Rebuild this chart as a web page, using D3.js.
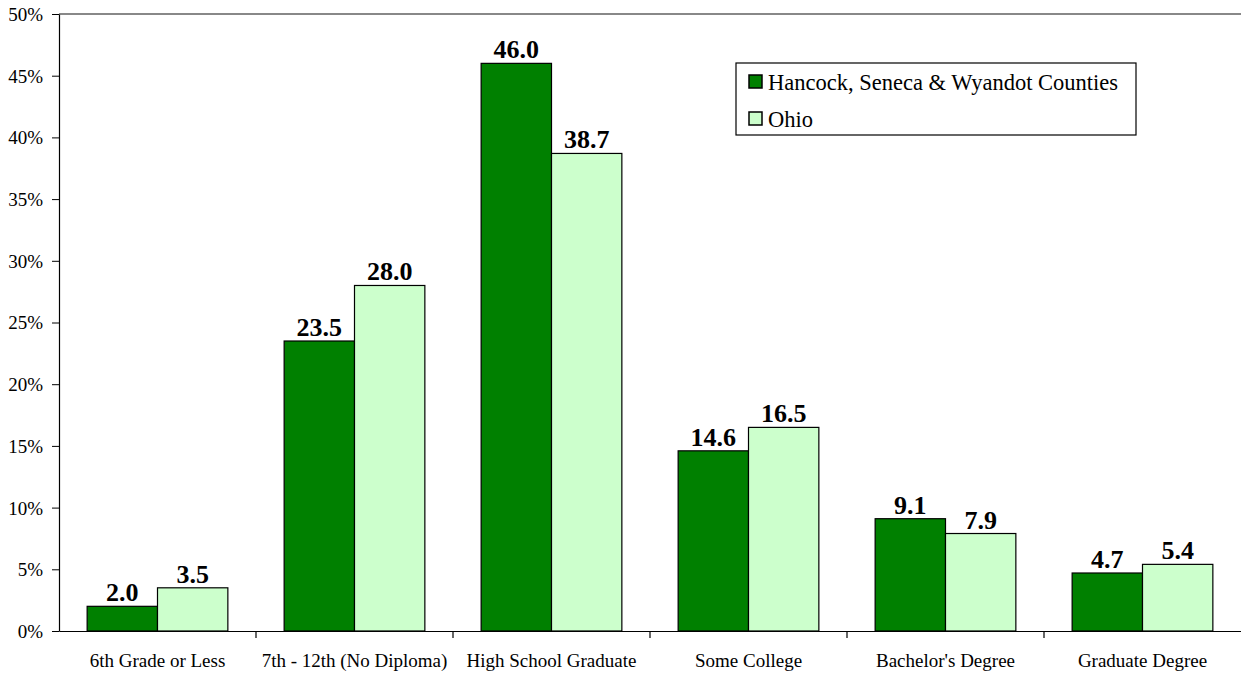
<!DOCTYPE html>
<html><head><meta charset="utf-8">
<script src="https://cdn.jsdelivr.net/npm/d3@7"></script>
<style>body{margin:0;background:#fff}svg{display:block}svg text{font-family:"Liberation Serif","Times New Roman",Tinos,serif}</style>
</head><body>
<svg id="c" width="1241" height="673"></svg>
<script>
const categories = ["6th Grade or Less","7th - 12th (No Diploma)","High School Graduate","Some College","Bachelor's Degree","Graduate Degree"];
const seriesNames = ["Hancock, Seneca & Wyandot Counties","Ohio"];
const countyValues = [2.0,23.5,46.0,14.6,9.1,4.7];
const ohioValues = [3.5,28.0,38.7,16.5,7.9,5.4];
const yTicks = [0,5,10,15,20,25,30,35,40,45,50];
const colors = ["#008000","#CCFFCC"];

const svg = d3.select("#c");
const m = {l:59, r:1241, t:14, b:631};
const x = d3.scaleBand().domain(categories).range([m.l, m.r]).paddingInner(0).paddingOuter(0);
const x1 = d3.scaleBand().domain([0,1]).range([0, x.bandwidth()]).paddingInner(0).paddingOuter(0.4);
const y = d3.scaleLinear().domain([0,50]).range([m.b, m.t]);

svg.append("line").attr("x1",m.l).attr("x2",m.r).attr("y1",y(50)).attr("y2",y(50))
  .attr("stroke","#888").attr("stroke-width",2);

const data = categories.map((c,i)=>({c, v:[countyValues[i], ohioValues[i]]}));
const g = svg.append("g");
data.forEach(d=>{
  d.v.forEach((v,s)=>{
    const bx = x(d.c)+x1(s);
    g.append("rect").attr("x",bx).attr("y",y(v)).attr("width",x1.bandwidth()).attr("height",y(0)-y(v))
      .attr("fill",colors[s]).attr("stroke","#000").attr("stroke-width",1.2);
    g.append("text").attr("x",bx+x1.bandwidth()/2).attr("y",y(v)-5).attr("text-anchor","middle")
      .attr("font-weight","bold").attr("font-size",26).text(v.toFixed(1));
  });
});

const ya = svg.append("g").attr("transform",`translate(${m.l},0)`)
  .call(d3.axisLeft(y).tickValues(yTicks).tickFormat(d=>d+"%").tickSize(7).tickPadding(9).tickSizeOuter(0));
ya.attr("font-family",null);
ya.select(".domain").attr("stroke","#000").attr("stroke-width",1.2);
ya.selectAll("text").attr("font-size",19).attr("fill","#000").attr("dy","0.34em");

const xa = svg.append("g").attr("transform",`translate(0,${m.b})`)
  .call(d3.axisBottom(x).tickSize(0).tickSizeOuter(0));
xa.attr("font-family",null);
xa.select(".domain").attr("stroke","#000").attr("stroke-width",1.2);
xa.selectAll("text").attr("font-size",19).attr("fill","#000").attr("y",36).attr("dy",null);
categories.forEach((c,i)=>{ if(i>0) xa.append("line").attr("x1",x(c)).attr("x2",x(c)).attr("y1",0).attr("y2",7).attr("stroke","#000").attr("stroke-width",1.2); });

const lg = svg.append("g").attr("transform","translate(736,63)");
lg.append("rect").attr("width",400).attr("height",72).attr("fill","#fff").attr("stroke","#000").attr("stroke-width",1.2);
seriesNames.forEach((n,i)=>{
  lg.append("rect").attr("x",13).attr("y",12+i*37).attr("width",13).attr("height",13).attr("fill",colors[i]).attr("stroke","#000").attr("stroke-width",1.5);
  lg.append("text").attr("x",32).attr("y",27+i*37).attr("font-size",22.5).text(n);
});
</script>
</body></html>
